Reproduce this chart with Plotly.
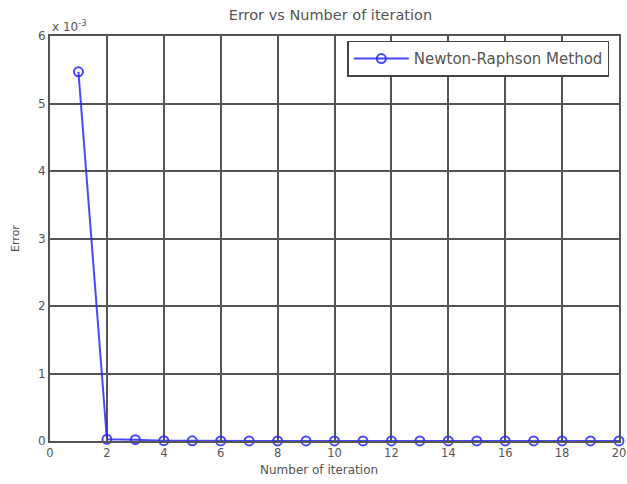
import plotly.graph_objects as go

iterations = list(range(1, 21))
error = [5.47e-3, 2.5e-5, 2.0e-5, 4e-6, 2e-6, 1e-6, 1e-6, 1e-6, 1e-6, 1e-6,
         1e-6, 1e-6, 1e-6, 1e-6, 1e-6, 1e-6, 1e-6, 1e-6, 1e-6, 1e-6]
x_ticks = list(range(0, 21, 2))
y_ticks = [0, 1e-3, 2e-3, 3e-3, 4e-3, 5e-3, 6e-3]
y_tick_labels = ["0", "1", "2", "3", "4", "5", "6"]

fig = go.Figure()
fig.add_trace(go.Scatter(
    x=iterations, y=error, mode="lines+markers",
    name="Newton-Raphson Method",
    line=dict(color="rgba(40,40,255,0.85)", width=2),
    marker=dict(symbol="circle-open", size=9, color="rgba(40,40,255,0.85)", line=dict(width=2)),
    cliponaxis=False,
))

fam = "DejaVu Sans, Verdana, sans-serif"
font = dict(family=fam, size=12, color="#555555")
fig.update_layout(
    width=627, height=484,
    margin=dict(l=50, r=8, t=36, b=43, autoexpand=False),
    plot_bgcolor="white", paper_bgcolor="white",
    font=font,
    title=dict(text="Error vs Number of iteration", x=0.527, xanchor="center", y=0.969, yanchor="middle",
               font=dict(family=fam, size=14.5, color="#555555"), automargin=False),
    showlegend=True,
    legend=dict(x=0.983, xanchor="right", y=0.988, yanchor="top", itemwidth=55,
                bgcolor="white", bordercolor="#444444", borderwidth=1.5,
                font=dict(family=fam, size=15, color="#555555")),
)
fig.update_xaxes(range=[0, 20], tickvals=x_ticks, showgrid=True, gridcolor="#555555", gridwidth=2,
                 showline=True, linecolor="#555555", linewidth=2, mirror=True, zeroline=False,
                 ticks="inside", ticklen=4, tickcolor="#555555", automargin=False,
                 tickfont=dict(size=11.5))
fig.update_yaxes(range=[0, 6e-3], tickvals=y_ticks, ticktext=y_tick_labels, showgrid=True,
                 gridcolor="#555555", gridwidth=2,
                 showline=True, linecolor="#555555", linewidth=2, mirror=True, zeroline=False,
                 ticks="inside", ticklen=4, tickcolor="#555555", automargin=False,
                 title=dict(text="Error", standoff=16, font=dict(size=11)))
fig.add_annotation(text="Number of iteration", xref="paper", yref="paper", x=0.473, y=-0.05,
                   xanchor="center", yanchor="top", showarrow=False, font=dict(size=12, color="#555555"))
fig.add_annotation(text="x 10<sup>-3</sup>", xref="paper", yref="paper", x=0.0, y=1.0,
                   xanchor="left", yanchor="bottom", showarrow=False, font=dict(size=12, color="#555555"))
fig.write_html("out.html", config={"displayModeBar": False},
               post_script="document.body.style.margin='0';")
